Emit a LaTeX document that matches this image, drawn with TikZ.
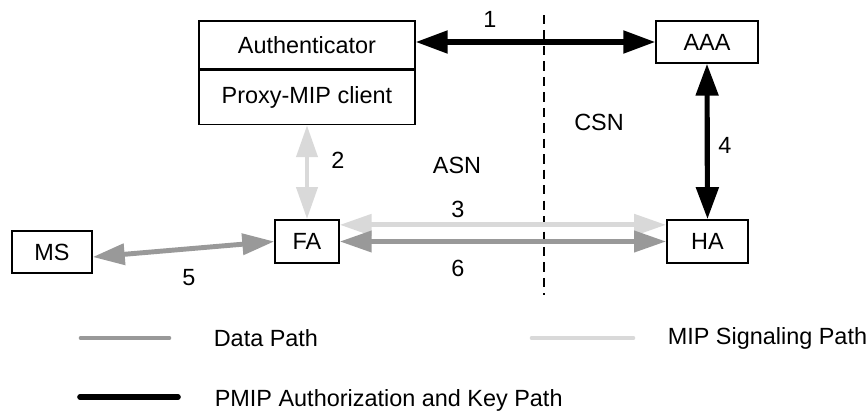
\documentclass[tikz,border=0pt]{standalone}
\usepackage{fontspec}
\setmainfont{Liberation Sans}
\usetikzlibrary{positioning,arrows.meta}
\definecolor{sigray}{HTML}{D9D9D9}
\definecolor{datgray}{HTML}{999999}
\tikzset{
  blk/.style={rectangle,draw=black,line width=0.6pt,inner sep=0pt,align=center,font=\normalsize},
  keypath/.style={{Triangle[length=0.48cm,width=0.33cm]}-{Triangle[length=0.48cm,width=0.33cm]},line width=2.2pt,draw=black},
  sigpath/.style={{Triangle[length=0.48cm,width=0.31cm]}-{Triangle[length=0.48cm,width=0.31cm]},line width=2.1pt,draw=sigray},
  datpath/.style={{Triangle[length=0.48cm,width=0.31cm]}-{Triangle[length=0.48cm,width=0.31cm]},line width=2.1pt,draw=datgray},
  lgd/.style={line width=2pt,line cap=round},
  lbl/.style={font=\normalsize,inner sep=1pt},
}
\begin{document}
\begin{tikzpicture}[x=0.015cm,y=-0.015cm,node distance=0pt]
  \useasboundingbox (0,0) rectangle (868,415);

  % boxes
  \node[blk,minimum width=3.24cm,minimum height=0.72cm] (auth) at (307,45) {Authenticator};
  \node[blk,minimum width=3.24cm,minimum height=0.81cm,below=0pt of auth] (pmip) {Proxy-MIP client};
  \node[blk,minimum width=1.53cm,minimum height=0.63cm] (aaa) at (707,42) {AAA};
  \node[blk,minimum width=1.2cm,minimum height=0.63cm] (ms) at (52,252) {MS};
  \node[blk,minimum width=0.96cm,minimum height=0.65cm] (fa) at (307,241.5) {FA};
  \node[blk,minimum width=1.22cm,minimum height=0.65cm] (ha) at (707.5,241.5) {HA};

  % ASN / CSN border
  \coordinate (dtop) at (544,15);
  \coordinate (dbot) at (544,295);
  \draw[line width=0.6pt,dash pattern=on 4pt off 2.6pt] (dtop) -- (dbot);
  \node[lbl] (asn) at (457,165) {ASN};
  \node[lbl] (csn) at (599,122) {CSN};

  % paths
  \draw[keypath] (auth.east |- aaa.west) -- (aaa.west);
  \draw[keypath] (aaa.south) -- (ha.north);
  \draw[sigpath] (pmip.south) -- (fa.north);
  \draw[sigpath] ([yshift=0.25cm]fa.east) -- ([yshift=0.25cm]ha.west);
  \draw[datpath] (fa.east) -- (ha.west);
  \draw[datpath] ([yshift=-0.075cm]ms.east) -- (fa.west);

  \node[lbl] (n1) at (490,19) {1};
  \node[lbl] (n2) at (338,160) {2};
  \node[lbl] (n3) at (458,209) {3};
  \node[lbl] (n4) at (725,145) {4};
  \node[lbl] (n5) at (189,278) {5};
  \node[lbl] (n6) at (458,268) {6};

  % legend
  \coordinate (ld1) at (81,338);  \coordinate (ld2) at (169,338);
  \coordinate (ls1) at (532,338); \coordinate (ls2) at (633,338);
  \coordinate (lk1) at (80,397);  \coordinate (lk2) at (178,397);
  \draw[lgd,datgray] (ld1) -- (ld2);
  \draw[lgd,sigray] (ls1) -- (ls2);
  \draw[lgd,black,line width=2.4pt] (lk1) -- (lk2);
  \node[lbl,anchor=west] (tdat) at (211,338) {Data Path};
  \node[lbl,anchor=west] (tsig) at (665,338) {MIP Signaling Path};
  \node[lbl,anchor=west] (tkey) at (212,400) {PMIP Authorization and Key Path};
\end{tikzpicture}
\end{document}
